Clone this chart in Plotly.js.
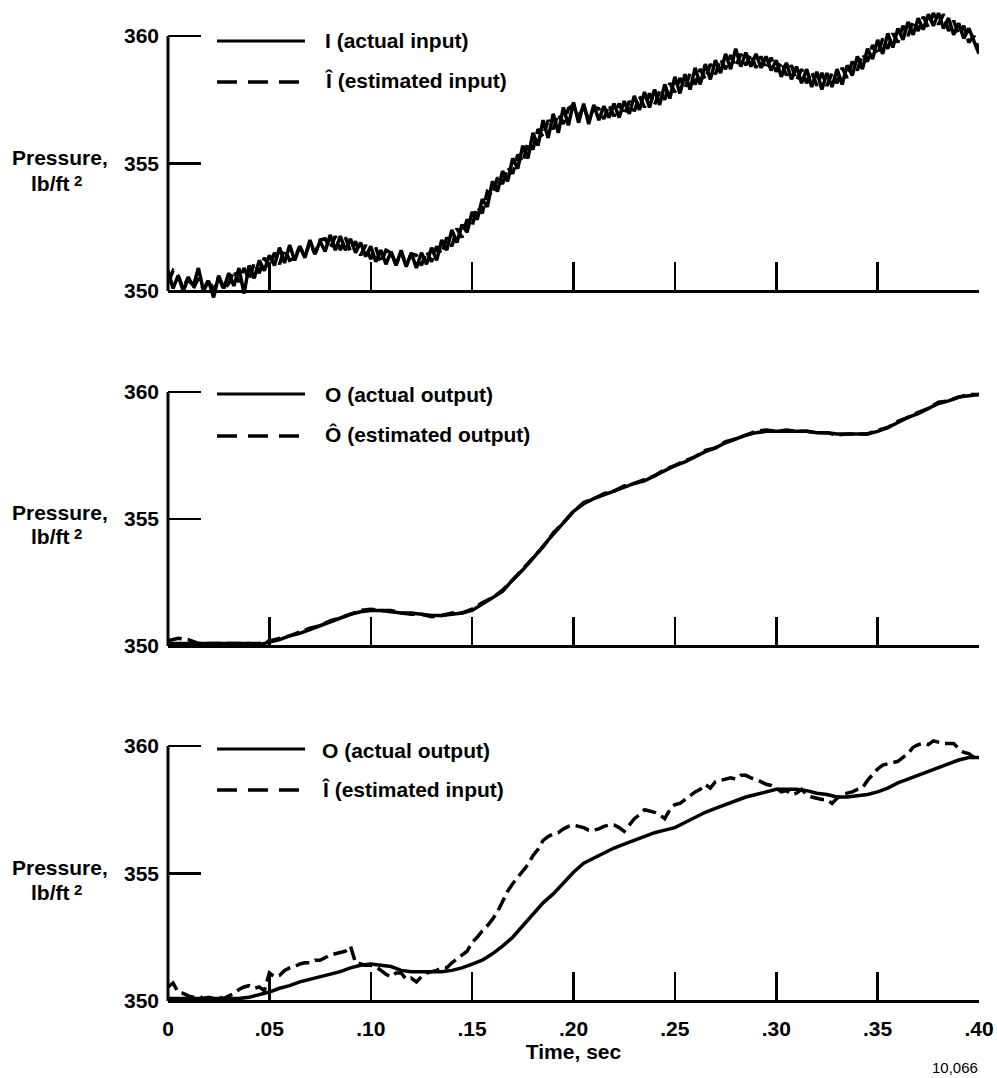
<!DOCTYPE html>
<html>
<head>
<meta charset="utf-8">
<script src="https://cdn.plot.ly/plotly-3.0.1.min.js"></script>
<style>html,body{margin:0;padding:0;background:#fff;}</style>
</head>
<body>
<div id="chart" style="width:997px;height:1078px"></div>
<script>
// ---- sampling clocks (seconds) ----
const FINE_STEP = 0.0025;   // 161 samples over 0 .. 0.40 s
const COARSE_STEP = 0.005;  // 81 samples over 0 .. 0.40 s
const timeFine = Array.from({length: 161}, (_, i) => +(i * FINE_STEP).toFixed(4));
const timeCoarse = Array.from({length: 81}, (_, i) => +(i * COARSE_STEP).toFixed(4));

// ---- axis ticks ----
const timeTicks = [0, 0.05, 0.10, 0.15, 0.20, 0.25, 0.30, 0.35, 0.40];
const timeTickText = ['0', '.05', '.10', '.15', '.20', '.25', '.30', '.35', '.40'];
const pressureTicks = [350, 355, 360];
const pressureTickText = ['350', '355', '360'];

// ---- top panel: actual input I and estimated input Î (lb/ft², fine clock) ----
const inputActual = [
  350.8, 350.1, 350.6, 350.0, 350.5, 350.2, 350.9, 350.0, 350.4, 349.75,
  350.6, 350.1, 350.7, 350.2, 350.9, 349.9, 351.0, 350.5, 351.2, 350.8,
  351.4, 351.0, 351.7, 351.1, 351.8, 351.2, 351.75, 351.3, 352.0, 351.45,
  351.95, 351.55, 352.2, 351.6, 352.15, 351.6, 352.05, 351.5, 351.9, 351.35,
  351.75, 351.15, 351.6, 351.05, 351.55, 351.0, 351.6, 350.95, 351.5, 350.9,
  351.5, 351.05, 351.7, 351.2, 352.0, 351.6, 352.4, 351.9, 352.6, 352.3,
  353.1, 352.8, 353.6, 353.3, 354.3, 353.9, 354.7, 354.3, 355.2, 354.8,
  355.7, 355.2, 356.2, 355.7, 356.7, 356.0, 356.95, 356.2, 357.2, 356.5,
  357.4, 356.6, 357.35, 356.55, 357.3, 356.7, 357.25, 356.8, 357.35, 356.8,
  357.45, 356.95, 357.65, 357.1, 357.8, 357.2, 357.9, 357.3, 358.1, 357.55,
  358.4, 357.75, 358.5, 357.9, 358.75, 358.1, 358.9, 358.3, 359.05, 358.55,
  359.3, 358.7, 359.5, 358.8, 359.35, 358.8, 359.3, 358.75, 359.2, 358.65,
  359.05, 358.4, 358.95, 358.3, 358.8, 358.15, 358.7, 358.0, 358.6, 357.9,
  358.55, 358.0, 358.7, 358.1, 358.85, 358.45, 359.2, 358.7, 359.5, 359.1,
  359.85, 359.3, 360.1, 359.55, 360.3, 359.85, 360.55, 360.05, 360.7, 360.25,
  360.85, 360.4, 360.9, 360.3, 360.7, 360.05, 360.5, 359.9, 360.3, 359.8,
  359.3
];
const inputEstimatedTop = [
  350.3, 350.8, 350.6, 350.1, 350.55, 350.1, 350.5, 350.05, 350.45, 350.0,
  350.55, 350.05, 350.3, 350.8, 350.35, 350.9, 350.45, 351.1, 350.7, 351.3,
  350.95, 351.5, 351.05, 351.65, 351.2, 351.3, 351.75, 351.35, 351.9, 351.45,
  352.0, 352.05, 351.65, 352.15, 351.6, 352.1, 351.55, 351.95, 351.4, 351.8,
  351.25, 351.7, 351.1, 351.6, 351.5, 351.05, 351.5, 351.0, 351.45, 351.4,
  351.0, 351.55, 351.15, 351.75, 351.45, 352.1, 351.75, 352.45, 352.1, 352.8,
  352.55, 353.3, 353.05, 353.9, 353.75, 354.45, 354.2, 354.85, 354.6, 355.35,
  355.05, 355.8, 355.55, 356.35, 356.05, 356.7, 356.35, 356.95, 356.55, 357.15,
  357.3, 356.8, 357.25, 356.7, 357.2, 357.15, 356.75, 357.3, 356.85, 357.35,
  356.9, 357.45, 357.05, 357.65, 357.2, 357.75, 357.3, 357.85, 357.5, 358.15,
  357.8, 358.35, 357.95, 358.55, 358.1, 358.7, 358.3, 358.9, 358.5, 359.1,
  358.7, 359.25, 358.8, 359.3, 358.85, 359.3, 358.75, 359.2, 358.7, 359.15,
  358.6, 359.0, 358.45, 358.85, 358.25, 358.7, 358.15, 358.6, 358.05, 358.55,
  358.05, 358.55, 358.15, 358.75, 358.35, 359.0, 358.65, 359.3, 359.0, 359.65,
  359.25, 359.9, 359.5, 360.1, 359.75, 360.4, 360.0, 360.6, 360.2, 360.75,
  360.35, 360.9, 360.45, 360.85, 360.2, 360.6, 360.05, 360.4, 359.75, 360.0,
  359.45
];

// ---- middle panel: actual output O and estimated output Ô (coarse clock) ----
const outputActualMid = [
  350.1, 350.1, 350.1, 350.1, 350.1, 350.1, 350.1, 350.1, 350.1, 350.05,
  350.15, 350.25, 350.4, 350.5, 350.65, 350.8, 350.95, 351.1, 351.25, 351.35,
  351.4, 351.4, 351.35, 351.3, 351.3, 351.25, 351.2, 351.2, 351.25, 351.3,
  351.4, 351.65, 351.9, 352.15, 352.6, 353.0, 353.45, 353.95, 354.4, 354.85,
  355.3, 355.6, 355.8, 355.95, 356.1, 356.25, 356.4, 356.5, 356.7, 356.9,
  357.1, 357.25, 357.45, 357.65, 357.8, 358.0, 358.15, 358.3, 358.4, 358.45,
  358.45, 358.45, 358.45, 358.45, 358.4, 358.4, 358.35, 358.35, 358.35, 358.35,
  358.45, 358.6, 358.8, 359.0, 359.15, 359.35, 359.55, 359.65, 359.8, 359.85,
  359.9
];
const outputEstimatedMid = [
  350.2, 350.3, 350.25, 350.1, 350.1, 350.1, 350.1, 350.1, 350.1, 350.1,
  350.2, 350.3, 350.4, 350.55, 350.7, 350.8, 351.0, 351.1, 351.25, 351.4,
  351.45, 351.4, 351.4, 351.3, 351.25, 351.25, 351.15, 351.2, 351.3, 351.3,
  351.45, 351.7, 351.9, 352.2, 352.6, 353.05, 353.45, 353.9, 354.45, 354.85,
  355.3, 355.65, 355.8, 356.0, 356.1, 356.3, 356.4, 356.55, 356.7, 356.95,
  357.1, 357.3, 357.45, 357.7, 357.8, 358.05, 358.15, 358.3, 358.45, 358.5,
  358.45, 358.5, 358.45, 358.45, 358.4, 358.4, 358.3, 358.35, 358.35, 358.35,
  358.5, 358.6, 358.85, 359.0, 359.2, 359.35, 359.6, 359.65, 359.8, 359.9,
  359.9
];

// ---- bottom panel: actual output O (coarse clock) and estimated input Î (fine clock) ----
const outputActualBottom = [
  350.1, 350.1, 350.1, 350.1, 350.1, 350.1, 350.1, 350.1, 350.15, 350.25,
  350.35, 350.5, 350.6, 350.75, 350.85, 350.95, 351.05, 351.15, 351.3, 351.4,
  351.45, 351.4, 351.35, 351.2, 351.15, 351.15, 351.15, 351.15, 351.2, 351.3,
  351.45, 351.6, 351.85, 352.15, 352.5, 352.95, 353.4, 353.85, 354.2, 354.65,
  355.05, 355.4, 355.6, 355.8, 356.0, 356.15, 356.3, 356.45, 356.6, 356.7,
  356.8, 357.0, 357.2, 357.4, 357.55, 357.7, 357.85, 358.0, 358.1, 358.2,
  358.3, 358.3, 358.3, 358.25, 358.15, 358.1, 358.0, 358.0, 358.05, 358.1,
  358.2, 358.35, 358.55, 358.7, 358.85, 359.0, 359.15, 359.3, 359.45, 359.55,
  359.55
];
const inputEstimatedBottom = [
  350.55, 350.7, 350.35, 350.3, 350.2, 350.15, 350.2, 350.1, 350.15, 350.1,
  350.15, 350.1, 350.2, 350.3, 350.45, 350.55, 350.6, 350.5, 350.55, 350.4,
  351.1, 350.95, 351.0, 351.2, 351.3, 351.35, 351.45, 351.5, 351.5, 351.6,
  351.6, 351.7, 351.8, 351.85, 351.9, 351.95, 352.15, 351.5, 351.45, 351.4,
  351.4, 351.35, 351.2, 351.05, 350.95, 351.1, 351.1, 350.85, 350.9, 350.75,
  350.95, 351.1, 351.15, 351.2, 351.3, 351.3, 351.5, 351.65, 351.8, 351.95,
  352.3, 352.5, 352.75, 352.95, 353.2, 353.5, 353.9, 354.3, 354.6, 354.85,
  355.15, 355.35, 355.7, 355.95, 356.3, 356.45, 356.55, 356.6, 356.75, 356.85,
  356.9, 356.85, 356.8, 356.7, 356.7, 356.75, 356.85, 356.9, 356.9, 356.8,
  356.65, 356.9, 357.15, 357.3, 357.5, 357.45, 357.4, 357.3, 357.15, 357.5,
  357.7, 357.75, 357.9, 358.05, 358.2, 358.3, 358.5, 358.35, 358.6, 358.65,
  358.7, 358.75, 358.7, 358.85, 358.85, 358.75, 358.7, 358.6, 358.5, 358.45,
  358.35, 358.2, 358.25, 358.1, 358.15, 358.3, 358.1, 358.0, 357.95, 357.9,
  357.9, 357.75, 357.95, 358.1, 358.15, 358.2, 358.3, 358.35, 358.65, 358.9,
  359.1, 359.25, 359.3, 359.35, 359.4, 359.55, 359.7, 359.95, 360.05, 360.1,
  360.05, 360.2, 360.15, 360.1, 360.1, 360.1, 359.9, 359.75, 359.7, 359.55,
  359.55
];

// ---- legend labels per panel ----
const legendLabels = [
  ['I (actual input)', 'Î (estimated input)'],
  ['O (actual output)', 'Ô (estimated output)'],
  ['O (actual output)', 'Î (estimated input)']
];
// side label: first row, second row and its exponent
const sideLabel = ['Pressure,', 'lb/ft', '2'];

// ---- page geometry (pixels) ----
const W = 997, H = 1078;
const M = {l: 168, r: 18, t: 0, b: 77};
const PW = W - M.l - M.r, PH = H - M.t - M.b;
const px2x = px => (px - M.l) / PW;
const py2y = py => (PH - (py - M.t)) / PH;

// each panel: pixel rows of the 350 and 360 levels, the clip window,
// legend rows and the two rows of the side label
const frames = [
  {p350: 291, p360: 36, top: 0, bottom: 305, legSolid: 41, legDash: 82, txt1: 40.5, txt2: 80.5, txtX: 323, lab: [158, 183]},
  {p350: 646, p360: 392, top: 370, bottom: 650, legSolid: 394, legDash: 436, txt1: 394.5, txt2: 434, txtX: 323, lab: [512, 537]},
  {p350: 1001, p360: 746, top: 720, bottom: 1001, legSolid: 749, legDash: 790, txt1: 750.5, txt2: 789.5, txtX: 320, lab: [867, 892]}
];
frames.forEach(f => {
  const k = (f.p350 - f.p360) / 10;
  f.range = [350 - (f.bottom - f.p350) / k, 360 + (f.p360 - f.top) / k];
  f.domain = [Math.max(0, py2y(f.bottom)), Math.min(1, py2y(f.top))];
  f.axisPos = py2y(f.p350);
  f.paperY = v => f.domain[0] + (v - f.range[0]) / (f.range[1] - f.range[0]) * (f.domain[1] - f.domain[0]);
});

const FONT = 'Liberation Sans, Arial, Helvetica, sans-serif';
const boldFont = (size) => ({family: FONT, size: size, color: '#000', weight: 'bold'});
const BLACK = '#000';

function timeAxis(f, showLabels) {
  const ax = {
    domain: [0, 1], range: [0, 0.4], anchor: 'free', position: f.axisPos,
    showline: true, linecolor: BLACK, linewidth: 3,
    ticks: 'inside', ticklen: 28, tickwidth: 2.5, tickcolor: BLACK,
    tickmode: 'array', tickvals: timeTicks, ticktext: timeTickText,
    showticklabels: showLabels, tickfont: boldFont(21), ticklabelstandoff: 8,
    showgrid: false, zeroline: false, fixedrange: true
  };
  if (showLabels) ax.title = {text: 'Time, sec', font: boldFont(21), standoff: 4};
  return ax;
}
function pressureAxis(f, xName) {
  return {
    domain: f.domain, range: f.range, anchor: xName,
    showline: false, ticks: 'inside', ticklen: 33, tickwidth: 2.5, tickcolor: BLACK,
    tickmode: 'array', tickvals: pressureTicks, ticktext: pressureTickText,
    tickfont: boldFont(21), ticklabelstandoff: 8,
    showgrid: false, zeroline: false, fixedrange: true
  };
}

const SOLID_W = 3.5, DASH = '14px,6px';
const traces = [
  {x: timeFine, y: inputActual, xaxis: 'x', yaxis: 'y', mode: 'lines', line: {color: BLACK, width: 3.5}},
  {x: timeFine, y: inputEstimatedTop, xaxis: 'x', yaxis: 'y', mode: 'lines', line: {color: BLACK, width: 3.5, dash: DASH}},
  {x: timeCoarse, y: outputActualMid, xaxis: 'x2', yaxis: 'y2', mode: 'lines', line: {color: BLACK, width: SOLID_W}},
  {x: timeCoarse, y: outputEstimatedMid, xaxis: 'x2', yaxis: 'y2', mode: 'lines', line: {color: BLACK, width: SOLID_W, dash: DASH}},
  {x: timeCoarse, y: outputActualBottom, xaxis: 'x3', yaxis: 'y3', mode: 'lines', line: {color: BLACK, width: SOLID_W}},
  {x: timeFine, y: inputEstimatedBottom, xaxis: 'x3', yaxis: 'y3', mode: 'lines', line: {color: BLACK, width: SOLID_W, dash: DASH}}
];

const shapes = [];
const annotations = [];
const note = (xpx, ypx, text, font, xanchor) => annotations.push({
  xref: 'paper', yref: 'paper', x: px2x(xpx), y: py2y(ypx), xanchor: xanchor || 'center', yanchor: 'middle',
  text: text, showarrow: false, font: font});

frames.forEach((f, i) => {
  // left spine, 350 to 360 only
  shapes.push({type: 'line', xref: 'paper', yref: 'paper', x0: 0, x1: 0,
    y0: f.paperY(350), y1: f.paperY(360), line: {color: BLACK, width: 3}});
  // legend samples
  shapes.push({type: 'line', xref: 'paper', yref: 'paper', x0: px2x(217), x1: px2x(305),
    y0: py2y(f.legSolid), y1: py2y(f.legSolid), line: {color: BLACK, width: 3}});
  shapes.push({type: 'line', xref: 'paper', yref: 'paper', x0: px2x(217), x1: px2x(305),
    y0: py2y(f.legDash), y1: py2y(f.legDash), line: {color: BLACK, width: 3.5, dash: '20px,11px'}});
  // legend text
  note(f.txtX, f.txt1, legendLabels[i][0], boldFont(21), 'left');
  note(f.txtX, f.txt2, legendLabels[i][1], boldFont(21), 'left');
  // side label of the pressure axis
  note(60, f.lab[0], sideLabel[0], boldFont(21));
  note(50, f.lab[1], sideLabel[1], boldFont(21));
  note(78, f.lab[1] - 3, sideLabel[2], boldFont(15));
});
note(955, 1067, '10,066', {family: FONT, size: 15, color: BLACK});

const layout = {
  width: W, height: H, margin: M,
  paper_bgcolor: '#fff', plot_bgcolor: '#fff',
  showlegend: false,
  xaxis: timeAxis(frames[0], false), yaxis: pressureAxis(frames[0], 'x'),
  xaxis2: timeAxis(frames[1], false), yaxis2: pressureAxis(frames[1], 'x2'),
  xaxis3: timeAxis(frames[2], true), yaxis3: pressureAxis(frames[2], 'x3'),
  shapes: shapes, annotations: annotations
};

Plotly.newPlot('chart', traces, layout, {staticPlot: true, displayModeBar: false});
</script>
</body>
</html>
